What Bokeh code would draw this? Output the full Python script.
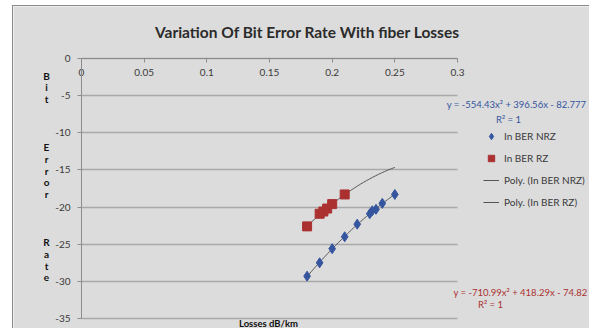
import numpy as np
from bokeh.plotting import figure
from bokeh.models import Label, Legend, LegendItem, FixedTicker, Range1d
from bokeh.embed import file_html
from bokeh.resources import INLINE

# ---------------- data ----------------
title_text = "Variation Of Bit Error Rate With fiber Losses"
x_title = "Losses dB/km"
y_title_letters = ["B", "i", "t", "", "", "", "E", "r", "r", "o", "r", "", "", "", "R", "a", "t", "e"]
x_ticks = [0, 0.05, 0.1, 0.15, 0.2, 0.25, 0.3]
x_tick_labels = ["0", "0.05", "0.1", "0.15", "0.2", "0.25", "0.3"]
y_ticks = [0, -5, -10, -15, -20, -25, -30, -35]
y_tick_labels = ["0", "-5", "-10", "-15", "-20", "-25", "-30", "-35"]

nrz_loss = [0.18, 0.19, 0.20, 0.21, 0.22, 0.23, 0.232, 0.235, 0.24, 0.25]
nrz_ber = [-29.3, -27.5, -25.6, -24.0, -22.3, -20.9, -20.5, -20.3, -19.5, -18.3]
rz_loss = [0.18, 0.19, 0.193, 0.196, 0.20, 0.21]
rz_ber = [-22.6, -20.9, -20.6, -20.2, -19.6, -18.3]
trend_end = 0.25

series_names = ["In BER NRZ", "In BER RZ", "Poly. (In BER NRZ)", "Poly. (In BER RZ)"]
nrz_eq = "y = -554.43x² + 396.56x - 82.777"
rz_eq = "y = -710.99x² + 418.29x - 74.82"
r2_text = "R² = 1"

# ---------------- geometry (page pixels -> data) ----------------
OX, OY, W, H = 13, 6, 576, 322          # chart area on the page
FL, FR, FT, FB = 81, 457, 58, 318       # plot area on the page
X_MIN, X_MAX, Y_MIN, Y_MAX = 0.0, 0.3, -35.0, 0.0


def dx(px):
    return X_MIN + (px - FL) / (FR - FL) * (X_MAX - X_MIN)


def dy(py):
    return Y_MAX - (py - FT) / (FB - FT) * (Y_MAX - Y_MIN)


BG = "#dcdcdc"
FONT = "Lato"
BLUE = "#35559f"
RED = "#ab3131"
AXIS = "#8c8c8c"
TXT = "#3a3a3a"

p = figure(width=W, height=H, output_backend="svg", toolbar_location=None,
           x_range=Range1d(dx(OX), dx(OX + W)), y_range=Range1d(dy(OY + H), dy(OY)),
           min_border_left=0, min_border_right=0, min_border_top=0, min_border_bottom=0)
p.margin = (OY, 0, 0, OX)
p.styles = {"outline": "1px solid #8a8a8a"}
p.background_fill_color = BG
p.border_fill_color = BG
p.outline_line_color = None

# x axis at y = 0, labels below the line
xa = p.xaxis[0]
xa.fixed_location = 0
xa.bounds = (X_MIN, X_MAX)
xa.ticker = FixedTicker(ticks=x_ticks)
xa.major_label_overrides = {t: s for t, s in zip(x_ticks, x_tick_labels)}
xa.major_tick_in = 0
xa.major_tick_out = 4
xa.minor_tick_line_color = None
xa.major_tick_line_color = AXIS
xa.axis_line_color = AXIS
xa.major_label_standoff = 6
xa.major_label_text_font = FONT
xa.major_label_text_font_size = "10px"
xa.major_label_text_color = TXT

ya = p.yaxis[0]
ya.fixed_location = 0
ya.bounds = (Y_MIN, Y_MAX)
ya.ticker = FixedTicker(ticks=y_ticks)
ya.major_label_overrides = {t: s for t, s in zip(y_ticks, y_tick_labels)}
ya.major_tick_in = 0
ya.major_tick_out = 4
ya.minor_tick_line_color = None
ya.major_tick_line_color = AXIS
ya.axis_line_color = AXIS
ya.major_label_standoff = 7
ya.major_label_text_font = FONT
ya.major_label_text_font_size = "10px"
ya.major_label_text_color = TXT

p.xgrid.visible = False
p.ygrid.ticker = FixedTicker(ticks=y_ticks)
p.ygrid.cross_bounds = (X_MIN, X_MAX)
p.ygrid.grid_line_color = "#a9a9a9"
p.ygrid.grid_line_width = 1.5

# trend lines (quadratic fit of each series)
c_nrz = np.polyfit(nrz_loss, nrz_ber, 2)
c_rz = np.polyfit(rz_loss, rz_ber, 2)
xt_nrz = np.linspace(min(nrz_loss), trend_end, 60)
xt_rz = np.linspace(min(rz_loss), trend_end, 60)
l1 = p.line(xt_nrz, np.polyval(c_nrz, xt_nrz), line_color="#555555", line_width=1)
l2 = p.line(xt_rz, np.polyval(c_rz, xt_rz), line_color="#555555", line_width=1)

s1 = p.scatter(nrz_loss, nrz_ber, marker="diamond", size=10, fill_color=BLUE, line_color=BLUE)
s2 = p.scatter(rz_loss, rz_ber, marker="square", size=9, fill_color=RED, line_color=RED)

legend = Legend(items=[LegendItem(label=series_names[0], renderers=[s1]),
                       LegendItem(label=series_names[1], renderers=[s2]),
                       LegendItem(label=series_names[2], renderers=[l1]),
                       LegendItem(label=series_names[3], renderers=[l2])],
                location=(483 - OX, OY + H - 210),
                background_fill_alpha=0, border_line_color=None,
                glyph_width=16, glyph_height=16, spacing=6, padding=0, margin=0,
                label_standoff=5, label_text_font=FONT, label_text_font_size="10px",
                label_text_color=TXT, label_height=16)
p.add_layout(legend, "center")

# title
p.add_layout(Label(x=dx(307), y=dy(31), text=title_text, text_align="center",
                   text_baseline="middle", text_font=FONT, text_font_style="bold",
                   text_font_size="15.5px", text_color="#2b2b2b"))

# y axis title (stacked letters, one per line position)
for i, ch in enumerate(y_title_letters):
    if ch:
        p.add_layout(Label(x=dx(46), y=dy(75 + i * 11.88), text=ch,
                           text_align="center", text_baseline="middle", text_font=FONT,
                           text_font_style="bold", text_font_size="10px",
                           text_color="#111111"))

# x axis title
p.add_layout(Label(x=dx(268), y=dy(323), text=x_title, text_align="center",
                   text_baseline="middle", text_font=FONT, text_font_style="bold",
                   text_font_size="9.5px", text_color="#111111"))

# trendline equations
for txt, px, py, col in [(nrz_eq, 516, 104, BLUE), (r2_text, 508, 119, BLUE),
                         (rz_eq, 520, 292, RED), (r2_text, 490, 304, RED)]:
    p.add_layout(Label(x=dx(px), y=dy(py), text=txt, text_align="center",
                       text_baseline="middle", text_font=FONT,
                       text_font_size="9.5px", text_color=col))

open("out.html", "w").write(file_html(p, INLINE))
